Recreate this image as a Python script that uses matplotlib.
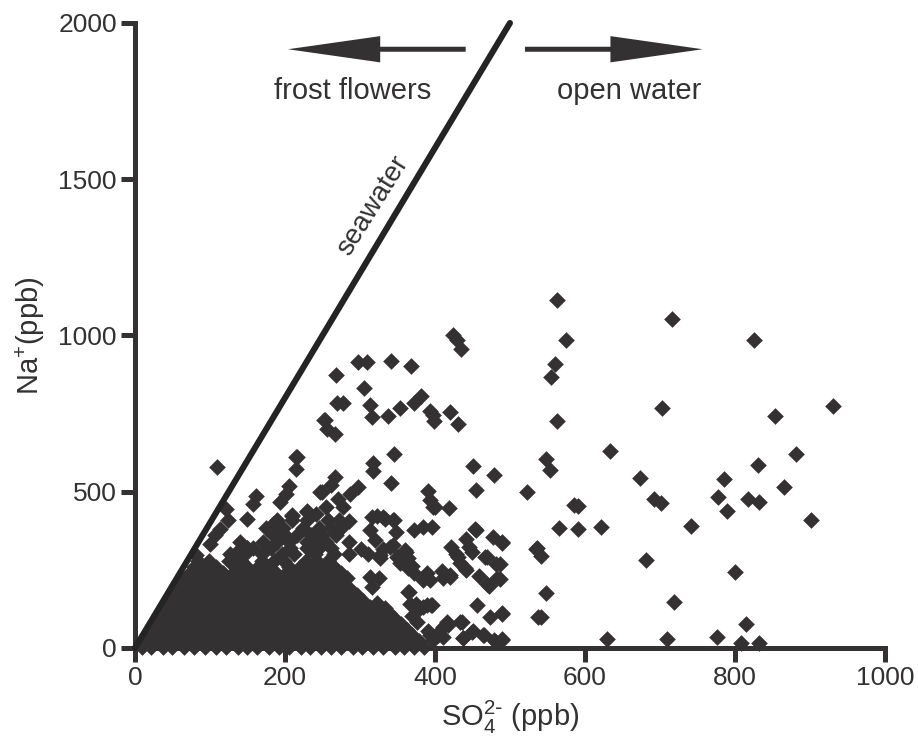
import matplotlib
matplotlib.use("Agg")
import matplotlib.pyplot as plt

plt.rcParams["font.family"] = ["Liberation Sans", "DejaVu Sans"]
plt.rcParams["mathtext.default"] = "regular"

INK = "#333132"

# dense core, one row of SO4 values per Na level
core_rows = {
    3: [9, 22, 37, 50, 66, 79, 93, 108, 121, 137, 150, 163, 179, 192, 205, 221, 233, 248,
        262, 275, 291, 303, 318, 331, 347, 359, 372, 386],
    22: [16, 30, 44, 58, 72, 87, 101, 115, 129, 143, 157, 171, 186, 200, 213, 228, 241, 256,
         270, 284, 297, 311, 325, 340, 353, 367, 379],
    40: [20, 35, 48, 63, 77, 91, 105, 119, 134, 147, 161, 176, 190, 203, 218, 231, 245, 260,
         274, 287, 302, 315, 330, 344, 357, 370],
    58: [25, 40, 54, 68, 83, 97, 111, 125, 139, 154, 167, 182, 196, 210, 224, 238, 252, 267,
         281, 295, 309, 323, 337, 351, 363],
    76: [30, 45, 59, 73, 88, 102, 116, 130, 144, 159, 173, 187, 201, 215, 229, 244, 258, 272,
         286, 300, 314, 328, 342, 355],
    95: [34, 49, 63, 78, 92, 106, 120, 135, 149, 163, 177, 191, 206, 220, 234, 248, 262, 277,
         291, 305, 319, 333, 346],
    113: [39, 54, 68, 82, 96, 111, 125, 139, 153, 168, 182, 196, 210, 224, 239, 253, 267, 281,
          296, 310, 322, 335],
    131: [44, 58, 73, 87, 101, 115, 130, 144, 158, 172, 186, 201, 215, 229, 243, 258, 272, 286,
          300, 314],
    150: [49, 63, 77, 92, 106, 120, 134, 148, 163, 177, 191, 205, 220, 234, 248, 262, 276, 291, 304],
    168: [54, 68, 82, 96, 111, 125, 139, 153, 167, 182, 196, 210, 224, 238, 253, 267, 281, 296],
    186: [58, 73, 87, 101, 115, 130, 144, 158, 172, 187, 201, 215, 229, 243, 258, 272, 288],
    205: [63, 77, 92, 106, 120, 134, 148, 163, 177, 191, 205, 220, 234, 248, 262, 278],
    223: [68, 82, 96, 111, 125, 139, 153, 167, 182, 196, 210, 224, 239, 253, 268, 283],
    241: [73, 88, 102, 117, 131, 145, 160, 174, 188, 202, 217, 231, 246, 260, 275],
    260: [79, 93, 108, 135, 150, 164, 178, 206, 220, 235, 250, 265],
    278: [84, 99, 126, 141, 170, 185, 199, 228, 243, 258],
    300: [127, 147, 169, 196, 212, 240, 265, 285],
    320: [150, 158, 182, 207, 230, 245, 262],
    340: [140, 171, 190, 205, 229, 240, 255],
    360: [184, 200, 216, 235, 250, 268],
    385: [175, 198, 224, 245, 262, 275],
    410: [189, 209, 230, 258, 272],
}

# scattered samples (SO4 ppb, Na ppb)
scatter_so4 = [
    110, 215, 215, 161, 157, 206, 202, 193, 149, 122, 124, 209, 229, 113, 107, 100, 82, 93,
    80, 69, 135, 149, 184, 189, 242, 249, 255, 229, 209, 216, 247, 262, 267, 271, 287, 298,
    278, 252, 256, 267, 253,
    424, 430, 435, 298, 309, 342, 368, 268, 306, 269, 278, 313, 382, 372, 353, 393, 398, 420,
    431, 337, 316, 399, 345, 318, 318, 342, 451, 479, 455, 391, 393, 398, 419, 400,
    455, 442, 446, 477, 490, 421, 428, 467, 482, 433, 441, 459, 483, 472, 535, 453, 450, 431,
    440, 469, 469,
    456, 473, 490, 538, 437, 451, 464, 479, 490, 418, 433, 393, 404, 411, 389, 395, 373, 411,
    420, 389, 393, 366, 372, 384, 396, 348, 316, 331, 344, 313, 286, 286, 323, 333, 345,
    362, 363, 364, 353, 331, 344, 349, 327, 320, 302, 311, 327, 340, 360, 364, 369, 372,
    364, 313, 326, 316, 312, 323, 333, 339, 329, 375, 384, 396, 391, 404, 416, 436, 450,
    465, 438, 410, 420, 367, 380, 376, 369, 353, 358, 398, 482, 411, 384,
    563, 716, 575, 560, 555, 703, 563, 634, 548, 553, 674, 523, 692, 702, 585, 591, 566,
    591, 621, 742, 490, 536, 541, 681, 548, 719, 490, 542, 490, 629, 709, 487, 487,
    825, 931, 853, 882, 831, 786, 866, 778, 818, 832, 790, 901, 800, 815, 776, 808, 832,
]
scatter_na = [
    579, 611, 574, 486, 462, 518, 494, 468, 414, 446, 411, 422, 439, 382, 361, 334, 297, 247,
    212, 228, 303, 319, 398, 372, 430, 499, 451, 436, 425, 611, 499, 521, 547, 478, 494, 515,
    451, 731, 702, 684, 728,
    1000, 986, 957, 915, 915, 917, 901, 872, 833, 784, 784, 776, 806, 785, 769, 758, 744, 755,
    716, 742, 739, 726, 620, 593, 566, 528, 582, 553, 505, 503, 473, 451, 449, 451,
    379, 350, 324, 356, 338, 322, 302, 290, 268, 273, 251, 230, 223, 199, 318, 382, 308, 292,
    255, 292, 204,
    137, 98, 111, 100, 31, 55, 42, 26, 26, 73, 84, 42, 42, 36, 137, 137, 134, 223,
    226, 241, 217, 180, 377, 388, 388, 372, 420, 418, 411, 379, 407, 340, 422, 414, 409,
    308, 273, 255, 271, 318, 329, 292, 287, 345, 318, 302, 297, 324, 313, 287, 262, 239,
    180, 228, 223, 196, 116, 145, 127, 111, 84, 141, 132, 137, 55, 47, 84, 84, 52,
    42, 31, 246, 233, 141, 127, 84, 102, 68, 45, 26, 20, 68, 217,
    1112, 1053, 986, 910, 867, 769, 726, 630, 604, 571, 545, 498, 476, 465, 457, 455, 384,
    382, 388, 390, 336, 320, 294, 281, 177, 148, 109, 100, 28, 28, 28, 268, 220,
    986, 775, 741, 620, 587, 540, 515, 483, 477, 468, 438, 410, 242, 76, 34, 17, 17,
]

so4 = list(scatter_so4)
na = list(scatter_na)
for level, xs in core_rows.items():
    so4 += xs
    na += [level] * len(xs)

# seawater Na/SO4 mass ratio line
seawater_so4 = [0, 500]
seawater_na = [0, 2000]

fig = plt.figure(figsize=(9.18, 7.37), dpi=100)
ax = fig.add_axes([0.147, 0.1208, 0.817, 0.848])

ax.scatter(so4, na, marker="D", s=72, color=INK, linewidths=0, clip_on=False, zorder=1)
ax.plot(seawater_so4, seawater_na, color="#242424", lw=4.4, solid_capstyle="round",
        clip_on=False, zorder=3)

# direction arrows
ax.arrow(441, 1916, -237, 0, width=16, head_width=84, head_length=123,
         length_includes_head=True, color=INK, lw=0, clip_on=False)
ax.arrow(520, 1916, 237, 0, width=16, head_width=84, head_length=123,
         length_includes_head=True, color=INK, lw=0, clip_on=False)
ax.text(290, 1783, "frost flowers", ha="center", va="center", fontsize=21, color=INK)
ax.text(659, 1783, "open water", ha="center", va="center", fontsize=21, color=INK)
ax.text(318, 1415, "seawater", ha="center", va="center", fontsize=20, color=INK,
        rotation=58, rotation_mode="anchor")

ax.set_xlim(0, 1000)
ax.set_ylim(0, 2000)
ax.set_xticks([0, 200, 400, 600, 800, 1000])
ax.set_yticks([0, 500, 1000, 1500, 2000])

for side in ["top", "right"]:
    ax.spines[side].set_visible(False)
for side in ["left", "bottom"]:
    ax.spines[side].set_linewidth(3.6)
    ax.spines[side].set_color(INK)
    ax.spines[side].set_capstyle("projecting")
ax.tick_params(width=3.6, length=10, color=INK, labelcolor=INK, labelsize=19, pad=3)

ax.set_xlabel(r"SO$_4^{2\text{-}}$ (ppb)", fontsize=21, color=INK, labelpad=6)
ax.set_ylabel(r"Na$^{+}$(ppb)", fontsize=21, color=INK, labelpad=8)

fig.savefig("out.png", dpi=100)
